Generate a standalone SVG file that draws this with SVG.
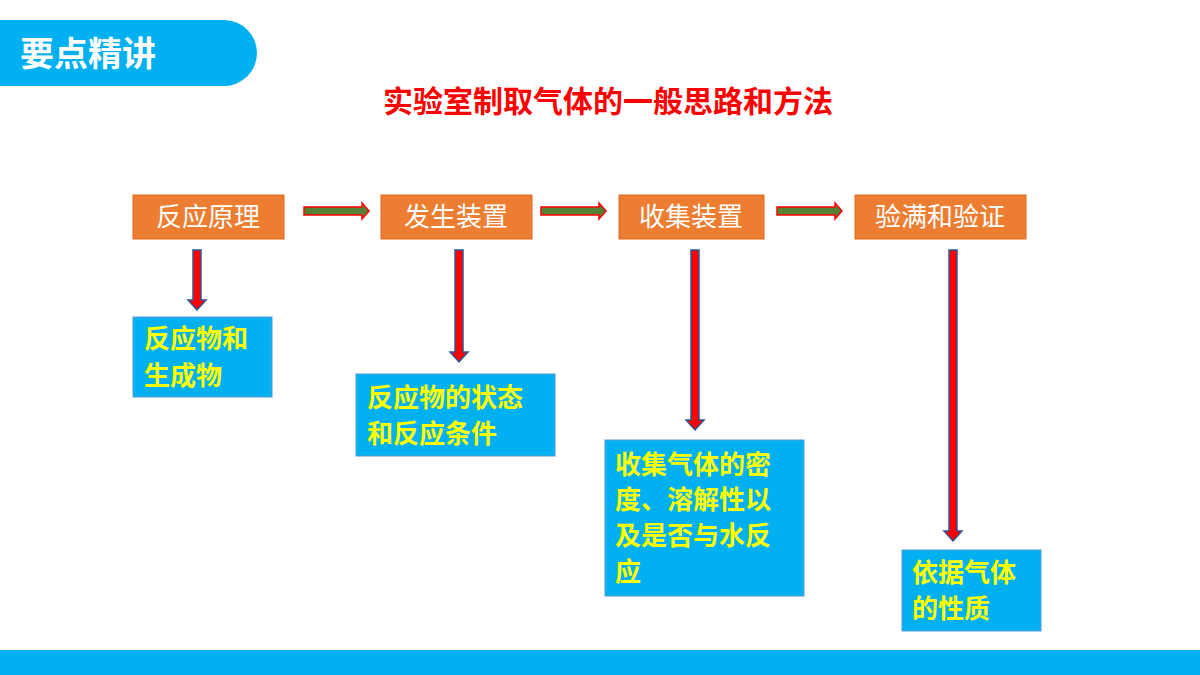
<svg xmlns="http://www.w3.org/2000/svg" width="1200" height="675" viewBox="0 0 1200 675">
<style>
.o{fill:#ED7D31;stroke:#E06A1E;stroke-width:1}
.b{fill:#00B0F0;stroke:#5B9BD5;stroke-width:1}
.ot{font-family:"Noto Sans CJK SC",sans-serif;font-size:26px;fill:#fff}
.bt{font-family:"Noto Sans CJK SC",sans-serif;font-size:26px;font-weight:bold;fill:#FFFF00}
.ha{fill:#548235;stroke:#FF0000;stroke-width:1.5}
.va{fill:#FF0000;stroke:#2F5597;stroke-width:1.5}
</style>
<rect width="1200" height="675" fill="#fff"/>
<path d="M0 20 H224 A33 33 0 0 1 224 86 H0 Z" fill="#00B0F0"/>
<text x="20" y="66" font-family="Noto Sans CJK SC,sans-serif" font-size="34" font-weight="bold" fill="#fff">要点精讲</text>
<text x="608" y="112" text-anchor="middle" font-family="Noto Sans CJK SC,sans-serif" font-size="30" font-weight="bold" fill="#FF0000">实验室制取气体的一般思路和方法</text>
<rect x="0" y="650" width="1200" height="25" fill="#00B0F0"/>
<g id="connectors">
<path class="ha" d="M304 207 H362 V203 L369 211 L362 219 V215 H304 Z"/>
<path class="ha" d="M541 207 H599 V203 L606 211 L599 219 V215 H541 Z"/>
<path class="ha" d="M777 207 H835 V203 L842 211 L835 219 V215 H777 Z"/>
<path class="va" d="M193 250 H201 V300 H206 L197 310 L188 300 H193 Z"/>
<path class="va" d="M455 250 H463 V352 H468 L459 362 L450 352 H455 Z"/>
<path class="va" d="M691 250 H699 V420 H704 L695 430 L686 420 H691 Z"/>
<path class="va" d="M949 250 H957 V531 H962 L953 541 L944 531 H949 Z"/>
</g>
<g id="n1"><rect class="o" x="133" y="195" width="151" height="44"/><text class="ot" x="208" y="226" text-anchor="middle">反应原理</text></g>
<g id="n2"><rect class="o" x="381" y="195" width="151" height="44"/><text class="ot" x="456" y="226" text-anchor="middle">发生装置</text></g>
<g id="n3"><rect class="o" x="619" y="195" width="145" height="44"/><text class="ot" x="691" y="226" text-anchor="middle">收集装置</text></g>
<g id="n4"><rect class="o" x="855" y="195" width="171" height="44"/><text class="ot" x="940" y="226" text-anchor="middle">验满和验证</text></g>
<g id="b1"><rect class="b" x="133" y="317" width="139" height="80"/><text class="bt" x="144" y="348">反应物和</text><text class="bt" x="144" y="385">生成物</text></g>
<g id="b2"><rect class="b" x="356" y="374" width="199" height="82"/><text class="bt" x="367" y="407">反应物的状态</text><text class="bt" x="367" y="443">和反应条件</text></g>
<g id="b3"><rect class="b" x="605" y="440" width="199" height="156"/><text class="bt" x="615" y="474">收集气体的密</text><text class="bt" x="615" y="509">度、溶解性以</text><text class="bt" x="615" y="545">及是否与水反</text><text class="bt" x="615" y="581">应</text></g>
<g id="b4"><rect class="b" x="902" y="550" width="139" height="81"/><text class="bt" x="912" y="582">依据气体</text><text class="bt" x="912" y="618">的性质</text></g>
</svg>
